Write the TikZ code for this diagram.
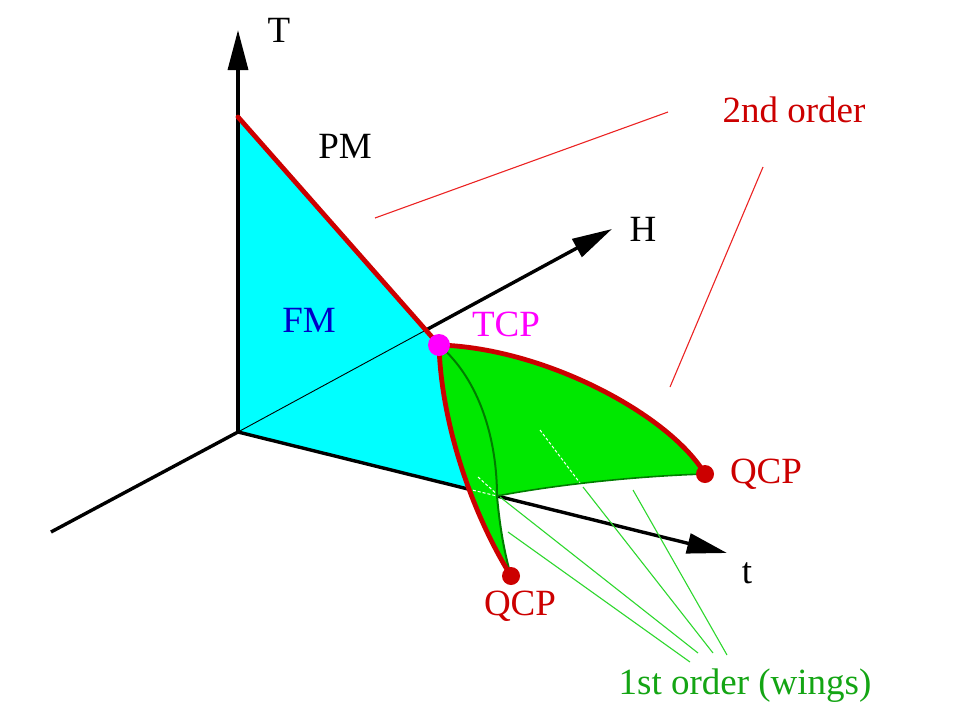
\documentclass[tikz,border=0pt]{standalone}
\usepackage{fontspec}
\setmainfont{Liberation Serif}
\usetikzlibrary{arrows.meta,calc}
\definecolor{cyfill}{RGB}{0,255,255}
\definecolor{grfill}{RGB}{0,232,0}
\definecolor{dred}{RGB}{204,0,0}
\definecolor{lred}{RGB}{235,35,35}
\definecolor{dgreen}{RGB}{0,125,0}
\definecolor{lgreen}{RGB}{45,215,45}
\definecolor{tgreen}{RGB}{20,165,20}
\definecolor{fmblue}{RGB}{0,0,200}
\definecolor{mag}{RGB}{255,0,255}
\begin{document}
\begin{tikzpicture}[x=1pt,y=-1pt,
  axis/.style={line width=3.4pt,black},
  thinaxis/.style={line width=0.9pt,black},
  arr/.style={-{Triangle[length=40pt,width=20pt]}},
  redline/.style={line width=4.8pt,dred,line cap=round},
  pointer/.style={line width=1.1pt,lred},
  wingline/.style={line width=1.1pt,lgreen},
  hidden/.style={line width=1pt,white,dash pattern=on 3pt off 2pt},
  lbl/.style={inner sep=0pt,font=\fontsize{37}{44}\selectfont},
  dot/.style={circle,fill=dred,inner sep=0pt,minimum size=18pt}
]
\useasboundingbox (0,0) rectangle (960,720);
% key points
\coordinate (O) at (238,432);
\coordinate (Ttip) at (238,30);
\coordinate (Hend) at (612,229);
\coordinate (tend) at (727,553);
\coordinate (Lend) at (51,532);
\coordinate (Tc) at (238,117);
\coordinate (TCP) at (439,345);
\coordinate (QCPr) at (705,474);
\coordinate (QCPb) at (511,576);
\coordinate (X1) at (468,489);
\coordinate (W) at (497,496);
\coordinate (Hx) at (intersection of O--Hend and Tc--TCP);
% cyan FM sheet
\begin{scope}
  \clip (O) -- (Tc) -- (700,117) -- ($(O)!1.0!(tend)$) -- cycle;
  \fill[cyfill] (Tc) -- (TCP) .. controls (441,420) and (470,510) .. (QCPb) -- (O) -- cycle;
\end{scope}
% green wings
\fill[grfill] (TCP) .. controls (545,348) and (670,415) .. (QCPr)
  .. controls (640,476) and (560,484) .. (W)
  .. controls (500,530) and (505,555) .. (QCPb)
  .. controls (470,510) and (441,420) .. (TCP) -- cycle;
% axes
\draw[thinaxis] (O) -- (Hx);
\draw[axis,arr] (Hx) -- (Hend);
\draw[axis] (O) -- (X1);
\draw[hidden] (X1) -- (W);
\draw[axis,arr] (W) -- (tend);
\draw[axis,arr] (O) -- (Ttip);
\draw[axis] (O) -- (Lend);
% hidden edges inside the wing
\coordinate (h2a) at (478,477);
\coordinate (h2b) at (500,497);
\coordinate (h3a) at (540,430);
\coordinate (h3b) at (583,487);
\draw[hidden] (h2a) -- (h2b);
\draw[hidden] (h3a) -- (h3b);
% dark green ridge
\draw[dgreen,line width=2pt] (TCP) .. controls (480,380) and (497,440) .. (W)
  .. controls (500,530) and (505,555) .. (QCPb);
\draw[dgreen,line width=1.6pt] (W) .. controls (560,484) and (640,476) .. (QCPr);
% red second-order lines
\draw[redline] (Tc) -- (TCP);
\draw[redline] (TCP) .. controls (441,420) and (470,510) .. (QCPb);
\draw[redline] (TCP) .. controls (545,348) and (670,415) .. (QCPr);
% labels
\node[lbl] (lT) at (279,30) {T};
\node[lbl] (lH) at (643,229) {H};
\node[lbl] (lt) at (747,573) {t};
\node[lbl] (lPM) at (345,146) {PM};
\node[lbl,text=fmblue] (lFM) at (309,320) {FM};
\node[lbl,text=mag] (lTCP) at (506,324) {TCP};
\node[lbl,text=dred] (lQr) at (766,474) {QCP};
\node[lbl,text=dred] (lQb) at (520,606) {QCP};
\node[lbl,text=dred] (l2nd) at (794,110) {2nd order};
\node[lbl,text=tgreen] (l1st) at (745,686) {1st order (wings)};
% pointer lines
\coordinate (p1a) at (668,112);
\coordinate (p1b) at (375,218);
\coordinate (p2a) at (763,167);
\coordinate (p2b) at (670,387);
\draw[pointer] (p1a) -- (p1b);
\draw[pointer] (p2a) -- (p2b);
\coordinate (g1a) at (508,532);
\coordinate (g1b) at (690,662);
\coordinate (g2b) at (698,653);
\coordinate (g3b) at (713,653);
\coordinate (g4a) at (633,490);
\coordinate (g4b) at (727,655);
\draw[wingline] (g1a) -- (g1b);
\draw[wingline] (h2b) -- (g2b);
\draw[wingline] (h3b) -- (g3b);
\draw[wingline] (g4a) -- (g4b);
% points
\node[dot] (dQr) at (QCPr) {};
\node[dot] (dQb) at (QCPb) {};
\node[circle,fill=mag,inner sep=0pt,minimum size=22pt] (dTCP) at (TCP) {};
\end{tikzpicture}
\end{document}
